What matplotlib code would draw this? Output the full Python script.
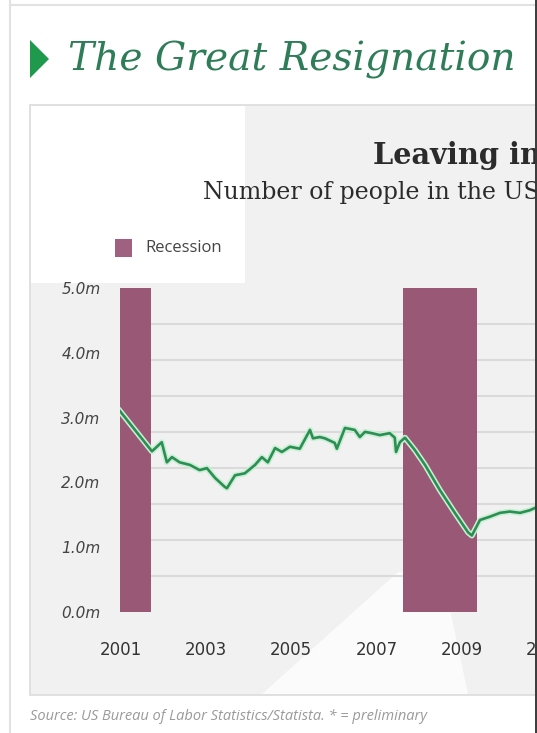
import matplotlib
matplotlib.use("Agg")
import matplotlib.pyplot as plt
import matplotlib.patheffects as pe
from matplotlib.patches import Polygon
from matplotlib.lines import Line2D
import numpy as np

# ---------------- data ----------------
years = [2000.98, 2001.73, 2001.96, 2002.08, 2002.20, 2002.38, 2002.62, 2002.85,
         2003.02, 2003.21, 2003.44, 2003.49, 2003.68, 2003.91, 2004.15, 2004.31,
         2004.45, 2004.62, 2004.78, 2004.97, 2005.20, 2005.44, 2005.51, 2005.67,
         2005.79, 2006.02, 2006.07, 2006.26, 2006.49, 2006.61, 2006.73, 2006.89,
         2007.08, 2007.31, 2007.43, 2007.46, 2007.55, 2007.67, 2007.90, 2008.14,
         2008.49, 2008.84, 2009.15, 2009.24, 2009.43, 2009.66, 2009.90, 2010.13,
         2010.37, 2010.60, 2010.77, 2011.00]
quits_m = [3.10, 2.48, 2.62, 2.31, 2.39, 2.31, 2.27, 2.19,
           2.22, 2.07, 1.93, 1.91, 2.11, 2.14, 2.27, 2.39,
           2.31, 2.53, 2.47, 2.55, 2.52, 2.81, 2.68, 2.70,
           2.68, 2.61, 2.52, 2.84, 2.81, 2.70, 2.78, 2.76,
           2.73, 2.76, 2.69, 2.47, 2.62, 2.69, 2.50, 2.27,
           1.88, 1.53, 1.23, 1.18, 1.42, 1.47, 1.53, 1.55,
           1.53, 1.57, 1.62, 1.64]
recession_start = [2000.98, 2007.62]
recession_end = [2001.71, 2009.36]
y_ticks = [0, 1, 2, 3, 4, 5]
y_tick_labels = ["0.0m", "1.0m", "2.0m", "3.0m", "4.0m", "5.0m"]
x_ticks = [2001, 2003, 2005, 2007, 2009, 2011, 2013, 2015, 2017, 2019, 2021]
x_tick_labels = [str(v) for v in x_ticks]

W, H = 537, 733
fig = plt.figure(figsize=(W / 100, H / 100), dpi=100)
fig.patch.set_facecolor("white")

def fx(x):
    return x / W

def fy(y):
    return 1 - y / H

def poly(pts, **kw):
    p = Polygon([(fx(x), fy(y)) for x, y in pts], closed=True,
                transform=fig.transFigure, **kw)
    fig.add_artist(p)

# card borders
fig.add_artist(Line2D([fx(10), fx(10)], [fy(0), fy(733)], color="#e2e2e2", lw=1.5,
                      transform=fig.transFigure, zorder=-5))
fig.add_artist(Line2D([fx(10), fx(537)], [fy(5), fy(5)], color="#e2e2e2", lw=1.5,
                      transform=fig.transFigure, zorder=-5))
# inner panel
poly([(30, 105), (560, 105), (560, 695), (30, 695)], facecolor="#f1f1f1",
     edgecolor="#dcdcdc", lw=1.2, zorder=-3)
poly([(31, 106), (245, 106), (245, 283), (31, 283)], facecolor="white",
     edgecolor="none", zorder=-2)
poly([(262, 694), (398, 572), (442, 572), (468, 694)], facecolor="#fbfbfb",
     edgecolor="none", zorder=-2)
# right dark edge
fig.add_artist(Line2D([fx(535.5), fx(535.5)], [fy(0), fy(733)], color="#3a3a3a", lw=1.4,
                      transform=fig.transFigure, zorder=10))

# headline
poly([(30, 40), (49, 59), (30, 78)], facecolor="#1f9a4c", edgecolor="none")
fig.text(fx(68), fy(60), "The Great Resignation", family="DejaVu Serif",
         style="italic", fontsize=28.2, color="#2f7d58", va="center", ha="left")

# chart titles
fig.text(fx(373), fy(155), "Leaving in", family="DejaVu Serif", weight="bold",
         fontsize=20.8, color="#2b2b2b", va="center", ha="left")
fig.text(fx(203), fy(192), "Number of people in the US", family="DejaVu Serif",
         fontsize=17.0, color="#2b2b2b", va="center", ha="left")

# legend
poly([(115, 239), (132, 239), (132, 257), (115, 257)], facecolor="#a0607f",
     edgecolor="none")
fig.text(fx(145), fy(248), "Recession", family="Open Sans", fontsize=12,
         color="#444444", va="center", ha="left")

# source
fig.text(fx(30), fy(717), "Source: US Bureau of Labor Statistics/Statista. * = preliminary",
         family="Open Sans", style="italic", fontsize=10.5, color="#9a9a9a",
         va="center", ha="left")

# ---------------- axes ----------------
x0_pix, y0_pix, y1_pix = 120, 612, 288
px_per_year = 42.6
xmin = 2000.98
xmax = 2022.0
right_pix = x0_pix + (xmax - xmin) * px_per_year
ax = fig.add_axes([fx(x0_pix), fy(y0_pix), (right_pix - x0_pix) / W,
                   (y0_pix - y1_pix) / H])
ax.set_facecolor("none")
ax.set_xlim(xmin, xmax)
ax.set_ylim(0, 5)
for s in ax.spines.values():
    s.set_visible(False)

ax.set_yticks(np.linspace(0, 5, 10), minor=True)
ax.grid(True, which="minor", axis="y", color="#dadada", lw=1.5)
ax.set_yticks(y_ticks)
ax.set_yticklabels(y_tick_labels, family="DejaVu Sans", style="italic",
                   fontsize=11, color="#444444")
ax.set_xticks(x_ticks)
ax.set_xticklabels(x_tick_labels, family="DejaVu Sans", fontsize=12,
                   weight="normal", color="#333333")
ax.tick_params(axis="both", which="both", length=0)
ax.tick_params(axis="y", pad=14)
ax.tick_params(axis="x", pad=21)

for s0, s1 in zip(recession_start, recession_end):
    ax.axvspan(s0, s1, ymin=0, ymax=1, facecolor="#9a5877", edgecolor="none",
               zorder=2)

ax.plot(years, quits_m, color="#2b8f53", lw=1.9, zorder=3,
        path_effects=[pe.Stroke(linewidth=4.2, foreground="#c9eed3"), pe.Normal()])

fig.savefig("out.png", dpi=100)
